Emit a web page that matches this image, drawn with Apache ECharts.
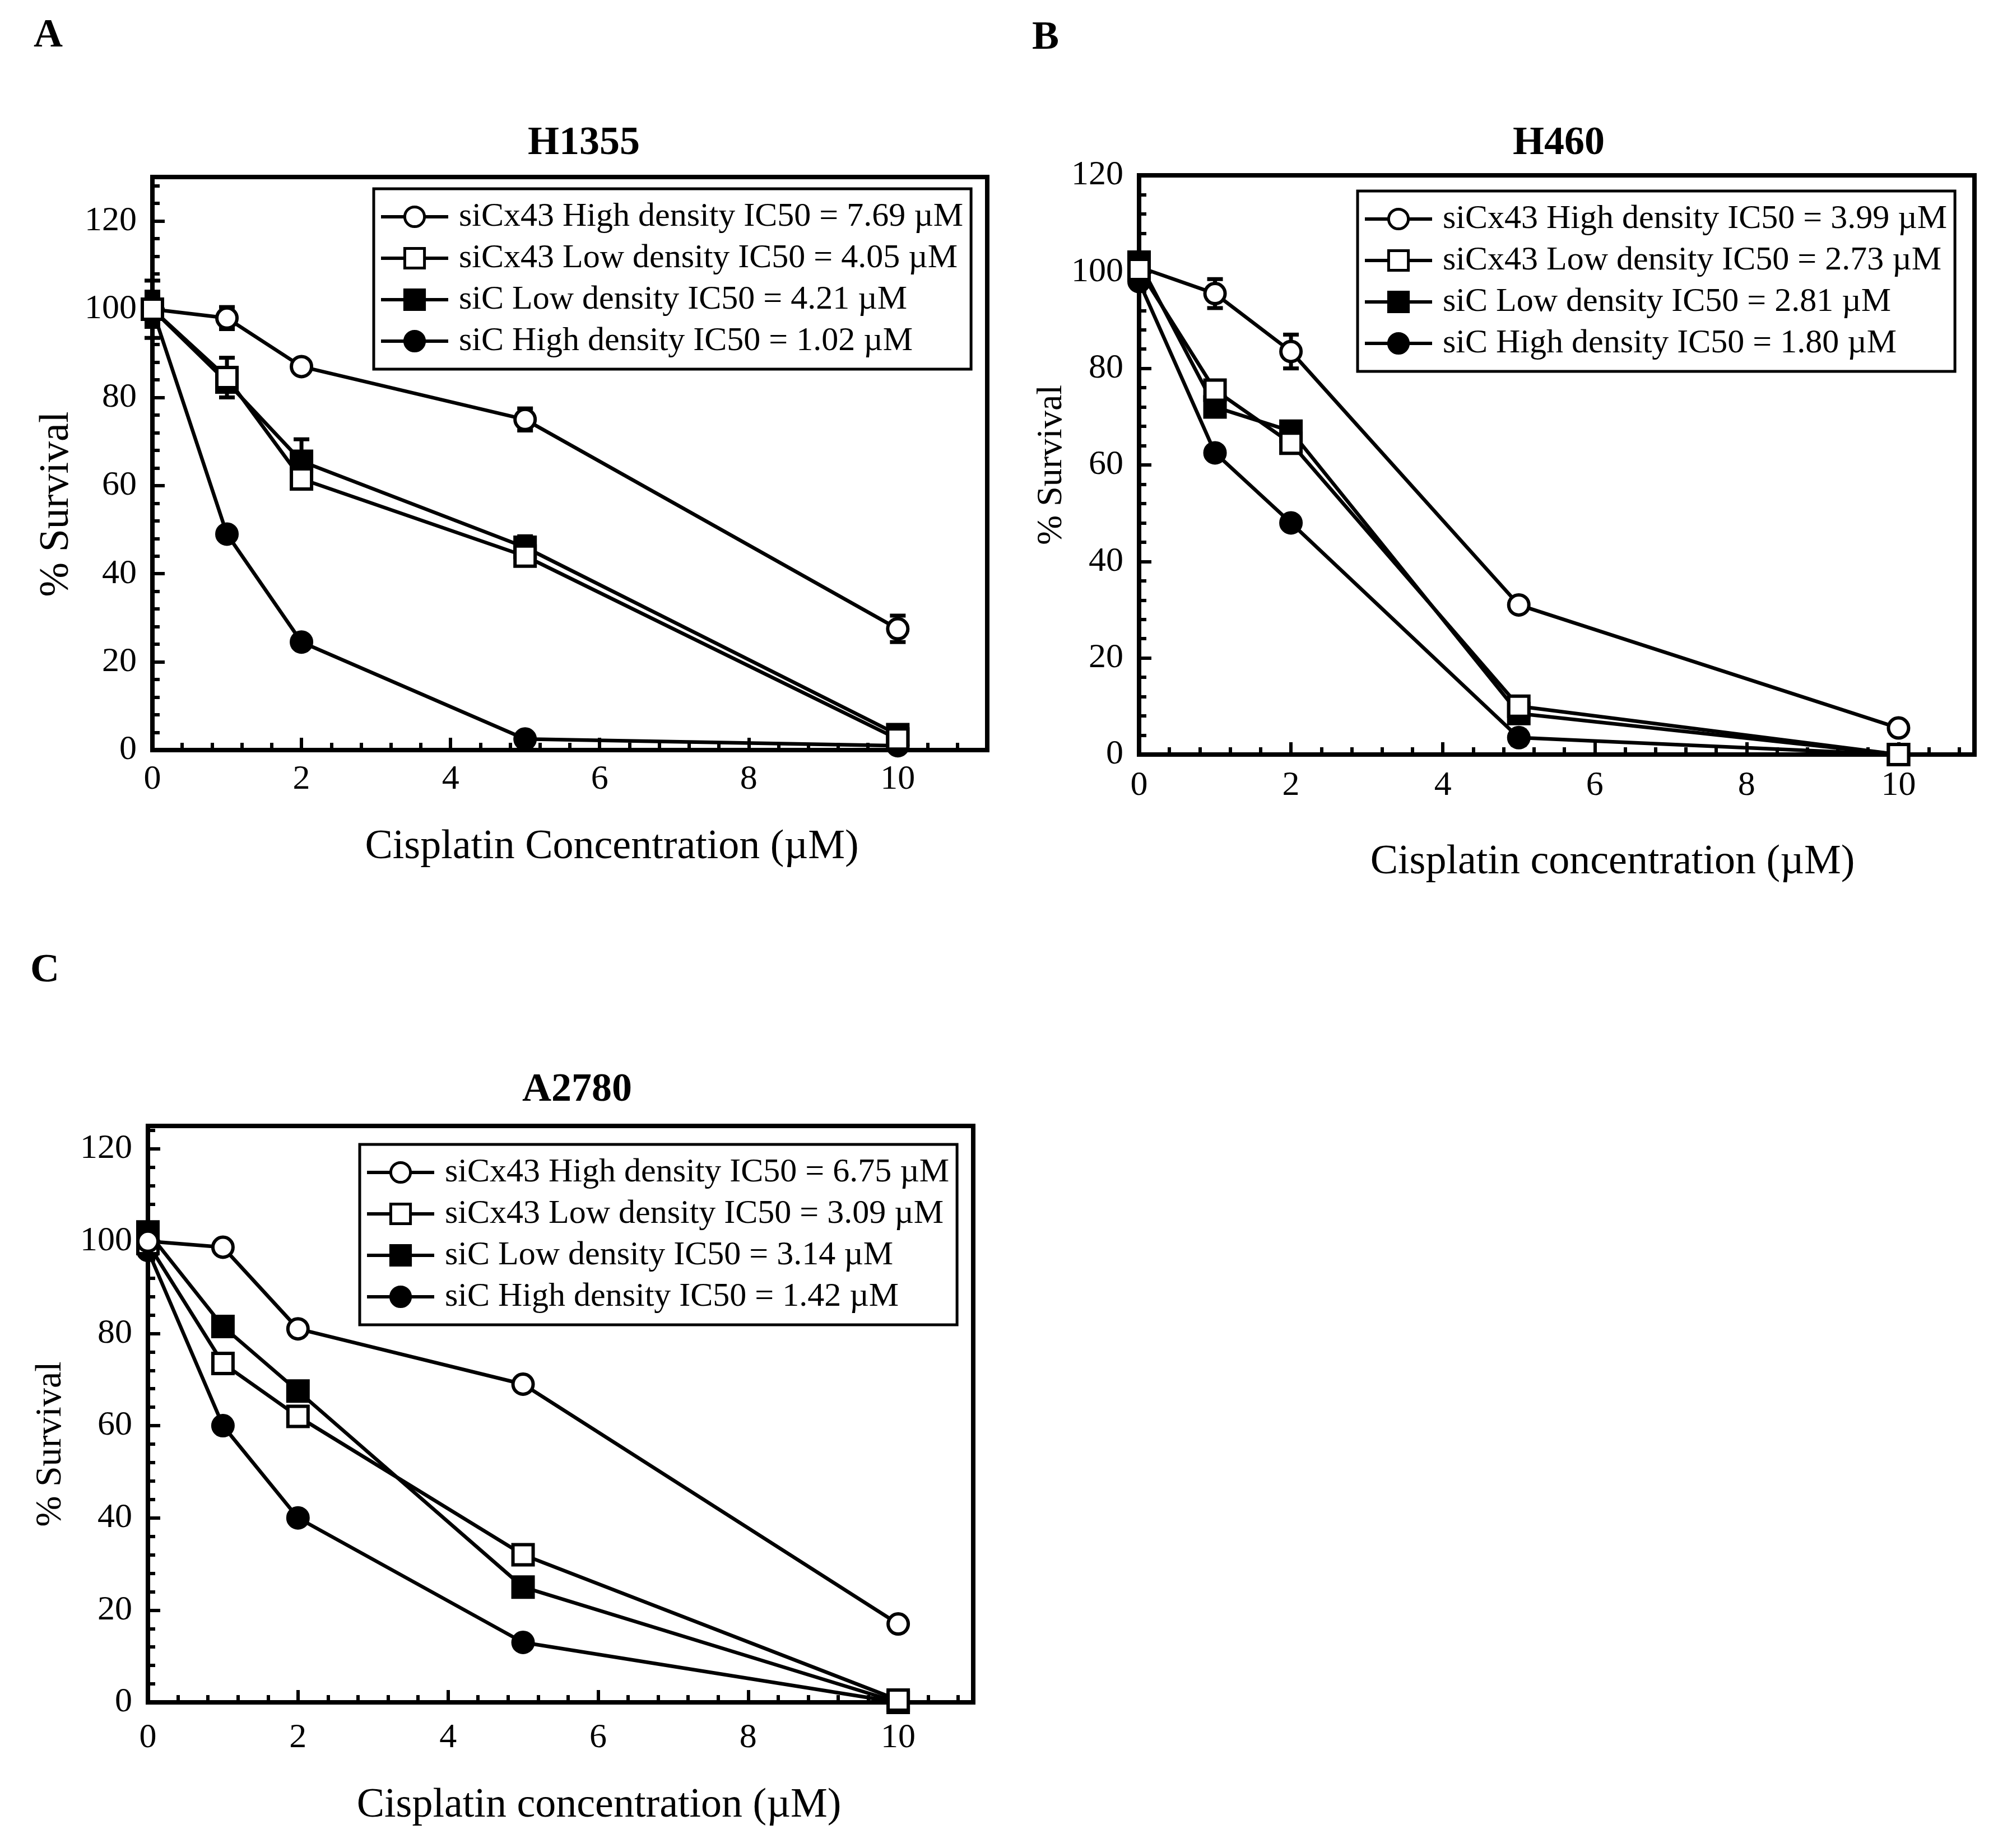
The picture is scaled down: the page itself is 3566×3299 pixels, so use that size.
<!DOCTYPE html>
<html lang="en">
<head>
<meta charset="UTF-8">
<title>Cisplatin survival</title>
<style>
html, body { margin: 0; padding: 0; background: #fff; }
#main { width: 3566px; height: 3299px; }
</style>
</head>
<body>
<div id="main"></div>
<script src="https://cdn.jsdelivr.net/npm/echarts@6/dist/echarts.min.js"></script>
<script>
// shared
var doses = [0, 1, 2, 5, 10];
var groupNames = ['siCx43 High density', 'siCx43 Low density', 'siC Low density', 'siC High density'];
var groupSymbols = ['circle', 'rect', 'rect', 'circle'];
var groupFilled = [false, false, true, true];

// A - H1355
var h1355Ic50 = ['7.69', '4.05', '4.21', '1.02'];
var h1355Cx43High = [100, 98, 87, 75, 27.5];
var h1355Cx43Low = [100, 84.5, 61.5, 44, 2.5];
var h1355CLow = [100, 83.5, 65.5, 46, 3.5];
var h1355CHigh = [100, 49, 24.5, 2.5, 1];
var h1355Cx43HighErr = [3.5, 2.5, 1.5, 2.5, 3];
var h1355Cx43LowErr = [6.5, 4.5, 2, 2, 1.5];
var h1355CLowErr = [4, 2, 5, 2.5, 1];
var h1355CHighErr = [3, 1, 1, 1, 0];

// B - H460
var h460Ic50 = ['3.99', '2.73', '2.81', '1.80'];
var h460Cx43High = [101, 95.5, 83.5, 31, 5.5];
var h460Cx43Low = [100.5, 75.5, 64.5, 10, 0];
var h460CLow = [102, 72, 67, 8.5, 0];
var h460CHigh = [98, 62.5, 48, 3.5, 0];
var h460Cx43HighErr = [2, 3, 3.5, 1, 0.5];
var h460Cx43LowErr = [1, 1, 1, 1, 0];
var h460CLowErr = [1.5, 1, 1.5, 1, 0];
var h460CHighErr = [1, 1, 1, 1.5, 0];

// C - A2780
var a2780Ic50 = ['6.75', '3.09', '3.14', '1.42'];
var a2780Cx43High = [100, 98.7, 81, 69, 17];
var a2780Cx43Low = [99.5, 73.5, 62, 32, 0.5];
var a2780CLow = [102, 81.5, 67.5, 25, 0];
var a2780CHigh = [98, 60, 40, 13, 0];
var a2780Cx43HighErr = [0, 0, 0, 0, 0];
var a2780Cx43LowErr = [0, 0, 1, 1.5, 0];
var a2780CLowErr = [0, 1.5, 1.5, 0.5, 0];
var a2780CHighErr = [0, 0, 0, 0, 0];

var FONT = "'Liberation Serif', 'Times New Roman', serif";

var panels = [
    { letter: 'A', title: 'H1355', xName: 'Cisplatin Concentration (\u00b5M)', ic50: h1355Ic50,
      values: [h1355Cx43High, h1355Cx43Low, h1355CLow, h1355CHigh],
      errors: [h1355Cx43HighErr, h1355Cx43LowErr, h1355CLowErr, h1355CHighErr],
      zOrder: [5, 6, 4, 3],
      grid: { left: 272, top: 316, width: 1490, height: 1023 }, xMax: 11.2, yMax: 130,
      xMargin: 22, legend: { left: 667, top: 337 },
      letterPos: [86, 64], titlePos: [1042, 256], xTitlePos: [1092, 1513], yTitlePos: [102, 900], yTitleSize: 74 },
    { letter: 'B', title: 'H460', xName: 'Cisplatin concentration (\u00b5M)', ic50: h460Ic50,
      values: [h460Cx43High, h460Cx43Low, h460CLow, h460CHigh],
      errors: [h460Cx43HighErr, h460Cx43LowErr, h460CLowErr, h460CHighErr],
      zOrder: [5, 6, 4, 3],
      grid: { left: 2033, top: 313, width: 1491, height: 1034 }, xMax: 11, yMax: 120,
      xMargin: 25, legend: { left: 2423, top: 341 },
      letterPos: [1866, 68], titlePos: [2782, 256], xTitlePos: [2878, 1540], yTitlePos: [1877, 830], yTitleSize: 64 },
    { letter: 'C', title: 'A2780', xName: 'Cisplatin concentration (\u00b5M)', ic50: a2780Ic50,
      values: [a2780Cx43High, a2780Cx43Low, a2780CLow, a2780CHigh],
      errors: [a2780Cx43HighErr, a2780Cx43LowErr, a2780CLowErr, a2780CHighErr],
      zOrder: [6, 5, 4, 3],
      grid: { left: 264, top: 2010, width: 1473, height: 1029 }, xMax: 11, yMax: 125,
      xMargin: 33, legend: { left: 642, top: 2043 },
      letterPos: [80, 1733], titlePos: [1030, 1946], xTitlePos: [1069, 3224], yTitlePos: [91, 2578], yTitleSize: 66 }
];

function errorBars(idx, ys, es) {
    var d = [];
    doses.forEach(function (x, i) {
        if (es[i] > 0) d.push([x, ys[i] - es[i], ys[i] + es[i]]);
    });
    return {
        type: 'custom', xAxisIndex: idx, yAxisIndex: idx, z: 1, silent: true, clip: false,
        data: d,
        encode: { x: 0, y: [1, 2] },
        renderItem: function (params, api) {
            var lo = api.coord([api.value(0), api.value(1)]);
            var hi = api.coord([api.value(0), api.value(2)]);
            var w = 14;
            var st = { stroke: '#000', lineWidth: 7 };
            return {
                type: 'group',
                children: [
                    { type: 'line', shape: { x1: lo[0], y1: lo[1], x2: hi[0], y2: hi[1] }, style: st },
                    { type: 'line', shape: { x1: lo[0] - w, y1: lo[1], x2: lo[0] + w, y2: lo[1] }, style: st },
                    { type: 'line', shape: { x1: hi[0] - w, y1: hi[1], x2: hi[0] + w, y2: hi[1] }, style: st }
                ]
            };
        }
    };
}

var grids = [], xAxes = [], yAxes = [], series = [], legends = [], graphics = [];

panels.forEach(function (p, idx) {
    grids.push({
        left: p.grid.left, top: p.grid.top, width: p.grid.width, height: p.grid.height,
        show: true, borderColor: '#000', borderWidth: 8, backgroundColor: 'transparent'
    });
    xAxes.push({
        type: 'value', gridIndex: idx, min: 0, max: p.xMax, interval: 2,
        axisLine: { show: true, onZero: false, lineStyle: { color: '#000', width: 8 } },
        axisTick: { show: true, inside: true, length: 22, lineStyle: { color: '#000', width: 6 } },
        minorTick: { show: true, splitNumber: 5, length: 13, lineStyle: { color: '#000', width: 6 } },
        splitLine: { show: false },
        axisLabel: {
            color: '#000', fontFamily: FONT, fontSize: 62, margin: p.xMargin,
            formatter: function (v) { return v % 2 === 0 ? String(v) : ''; }
        }
    });
    yAxes.push({
        type: 'value', gridIndex: idx, min: 0, max: p.yMax, interval: 20,
        axisLine: { show: true, onZero: false, lineStyle: { color: '#000', width: 8 } },
        axisTick: { show: true, inside: true, length: 22, lineStyle: { color: '#000', width: 6 } },
        minorTick: { show: true, splitNumber: 5, length: 13, lineStyle: { color: '#000', width: 6 } },
        splitLine: { show: false },
        axisLabel: {
            color: '#000', fontFamily: FONT, fontSize: 62, margin: 28,
            formatter: function (v) { return v % 20 === 0 ? String(v) : ''; }
        }
    });

    var names = [];
    groupNames.forEach(function (g, k) {
        var name = g + ' IC50 = ' + p.ic50[k] + ' \u00b5M';
        names.push(name);
        series.push(errorBars(idx, p.values[k], p.errors[k]));
        series.push({
            type: 'line', name: name, xAxisIndex: idx, yAxisIndex: idx, z: p.zOrder[k], clip: false,
            data: doses.map(function (x, i) { return [x, p.values[k][i]]; }),
            symbol: groupSymbols[k], symbolSize: 36,
            lineStyle: { color: '#000', width: 6.5 },
            itemStyle: { color: groupFilled[k] ? '#000' : '#fff', borderColor: '#000', borderWidth: 6 },
            emphasis: { disabled: true }
        });
    });

    legends.push({
        data: names, orient: 'vertical', left: p.legend.left, top: p.legend.top,
        selectedMode: false, itemWidth: 120, itemHeight: 44, itemGap: 14,
        padding: [20, 14, 20, 10],
        borderColor: '#000', borderWidth: 5, backgroundColor: '#fff',
        itemStyle: { borderWidth: 5 },
        lineStyle: { width: 6 },
        textStyle: { color: '#000', fontFamily: FONT, fontSize: 60, lineHeight: 60, padding: [0, 0, 0, 14] }
    });

    graphics.push(
        { type: 'text', x: p.letterPos[0], y: p.letterPos[1],
          style: { text: p.letter, font: 'bold 72px ' + FONT, fill: '#000', textAlign: 'center', textVerticalAlign: 'middle' } },
        { type: 'text', x: p.titlePos[0], y: p.titlePos[1],
          style: { text: p.title, font: 'bold 72px ' + FONT, fill: '#000', textAlign: 'center', textVerticalAlign: 'middle' } },
        { type: 'text', x: p.xTitlePos[0], y: p.xTitlePos[1],
          style: { text: p.xName, font: '74px ' + FONT, fill: '#000', textAlign: 'center', textVerticalAlign: 'middle' } },
        { type: 'text', x: p.yTitlePos[0], y: p.yTitlePos[1], rotation: Math.PI / 2,
          style: { text: '% Survival', font: p.yTitleSize + 'px ' + FONT, fill: '#000', textAlign: 'center', textVerticalAlign: 'middle' } }
    );
});

var chart = echarts.init(document.getElementById('main'));
chart.setOption({
    backgroundColor: '#fff',
    animation: false,
    grid: grids,
    xAxis: xAxes,
    yAxis: yAxes,
    legend: legends,
    series: series,
    graphic: { elements: graphics }
});
</script>
</body>
</html>
